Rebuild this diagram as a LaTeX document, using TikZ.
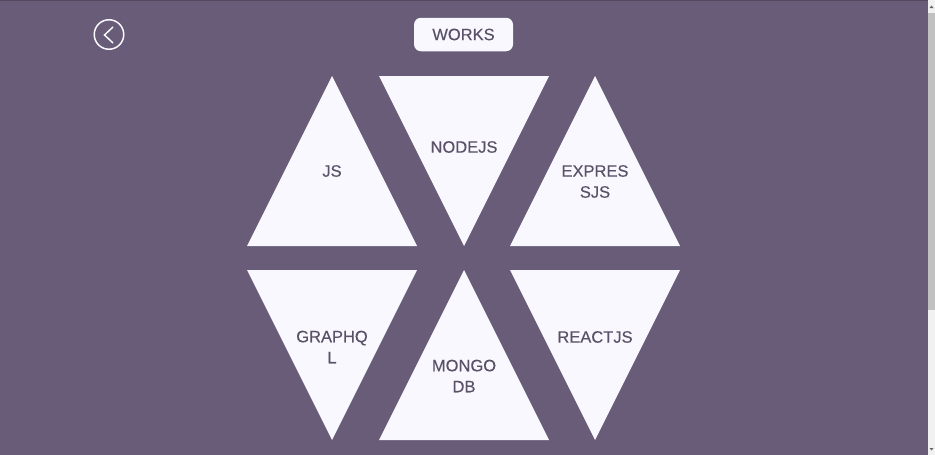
\documentclass[tikz,border=0pt]{standalone}
\usepackage{fontspec}
\setmainfont{Liberation Sans}
\newfontfamily\lblfont[FakeBold=0.3]{Liberation Sans}
\definecolor{bgc}{HTML}{685C78}
\definecolor{tri}{HTML}{F9F8FE}
\definecolor{txt}{HTML}{5A5168}
\definecolor{thumb}{HTML}{C1C1C1}
\definecolor{track}{HTML}{F1F1F1}
\tikzset{
  tripart/.style={fill=tri,draw=none},
  lbl/.style={text=txt,font=\fontsize{16.5}{21}\lblfont,align=center,inner sep=0pt},
}
\begin{document}
\begin{tikzpicture}[x=1pt,y=-1pt]
\useasboundingbox (0,0) rectangle (935,455);
\fill[bgc] (0,0) rectangle (928,455);
\fill[bgc!80!black] (0,0) rectangle (928,1);
\fill[track] (928,0) rectangle (935,455);
\fill[thumb] (928,13) rectangle (935,310);
\fill[black!60] (929.5,8) -- (931.5,5.5) -- (933.5,8) -- cycle;
\fill[black!60] (929.5,448) -- (931.5,450.5) -- (933.5,448) -- cycle;
% back button
\node[draw=tri,line width=1.5pt,circle,minimum size=29.5pt,inner sep=0pt] (back) at (109,34.5) {};
\draw[tri,line width=1.5pt] (113,27) -- (104.5,35) -- (113,43);
% title
\node[fill=tri,rounded corners=7pt,minimum width=99pt,minimum height=33.5pt,inner sep=0pt,lbl] (title) at (463.5,34.5) {WORKS};
% triangles
\fill[tripart] (332,76) -- (417,246) -- (247,246) -- cycle;
\fill[tripart] (379,76) -- (549,76) -- (464,246) -- cycle;
\fill[tripart] (595,76) -- (680,246) -- (510,246) -- cycle;
\fill[tripart] (247,270) -- (417,270) -- (332,440) -- cycle;
\fill[tripart] (464,270) -- (549,440) -- (379,440) -- cycle;
\fill[tripart] (510,270) -- (680,270) -- (595,440) -- cycle;
% labels
\node[lbl] (js) at (332,171) {JS};
\node[lbl] (nodejs) at (464,147) {NODEJS};
\node[lbl] (express) at (595,181.5) {EXPRES\\SJS};
\node[lbl] (graphql) at (332,347) {GRAPHQ\\L};
\node[lbl] (mongo) at (464,376) {MONGO\\DB};
\node[lbl] (react) at (595,337) {REACTJS};
\end{tikzpicture}
\end{document}
